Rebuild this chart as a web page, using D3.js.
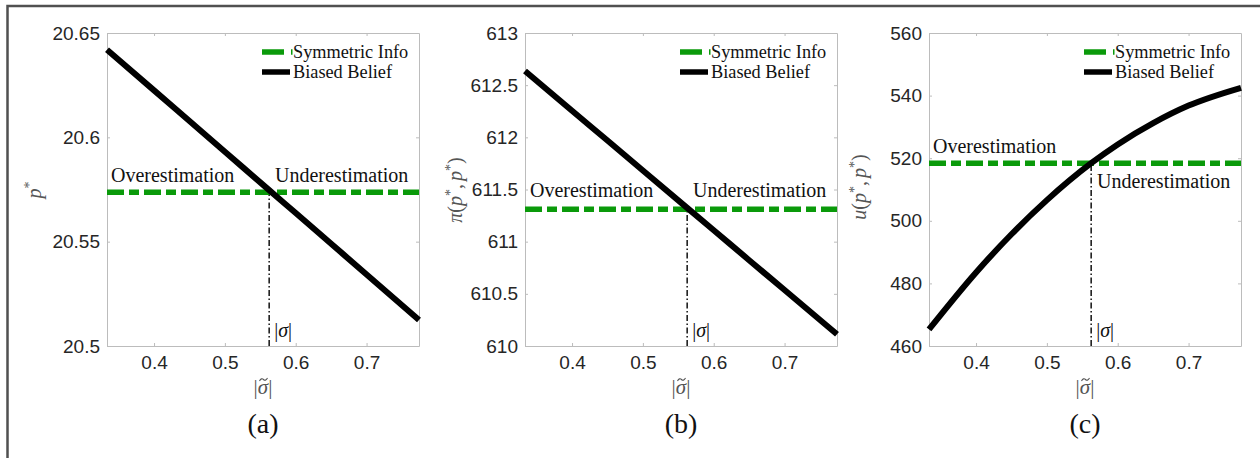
<!DOCTYPE html>
<html>
<head>
<meta charset="utf-8">
<script src="https://cdn.jsdelivr.net/npm/d3@7"></script>
<style>
  body { margin: 0; background: #fff; }
  svg { display: block; }
</style>
</head>
<body>
<div id="chart"></div>
<script>
// values
const sigmaTilde = [0.3336, 0.4, 0.45, 0.5, 0.5625, 0.6, 0.65, 0.7, 0.774];
const priceBiased = [20.642, 20.6225, 20.6078, 20.5931, 20.5747, 20.5637, 20.549, 20.5343, 20.5125];
const profitBiased = [612.636, 612.2555, 611.9689, 611.6823, 611.3241, 611.1092, 610.8226, 610.5361, 610.112];
const utilityBiased = [465.3, 483.5, 495.7, 506.6, 518.4, 524.4, 531.2, 536.8, 542.5];
const priceSymmetric = 20.5737;
const profitSymmetric = 611.31;
const utilitySymmetric = 518.4;
const sigmaTrue = 0.5625;

const xTicks = [0.4, 0.5, 0.6, 0.7];
const priceTicks = [20.5, 20.55, 20.6, 20.65];
const profitTicks = [610, 610.5, 611, 611.5, 612, 612.5, 613];
const utilityTicks = [460, 480, 500, 520, 540, 560];

const width = 1260, height = 458;
const serif = "'Liberation Serif', 'Times New Roman', serif";
const sans = "'Liberation Sans', Arial, Helvetica, sans-serif";
const green = "#0a9a0a";

const svg = d3.select("#chart").append("svg")
    .attr("width", width)
    .attr("height", height);

// outer frame (only top and left edges visible)
svg.append("path")
    .attr("d", `M7.5,${height} L7.5,6 L${width},6`)
    .attr("fill", "none")
    .attr("stroke", "#505050")
    .attr("stroke-width", 2.5);

const panels = [
    { left: 107, ys: priceBiased, yDomain: [20.5, 20.65], yTicks: priceTicks, sym: priceSymmetric,
      yLabel: "p", tag: "(a)", fmt: d3.format(".2~f"),
      over: { dx: 4, y: 182 }, under: { x: 275, y: 182 } },
    { left: 525, ys: profitBiased, yDomain: [610, 613], yTicks: profitTicks, sym: profitSymmetric,
      yLabel: "pi", tag: "(b)", fmt: d3.format(".1~f"),
      over: { dx: 5, y: 197 }, under: { x: 693, y: 197 } },
    { left: 929, ys: utilityBiased, yDomain: [460, 560], yTicks: utilityTicks, sym: utilitySymmetric,
      yLabel: "u", tag: "(c)", fmt: d3.format("d"),
      over: { dx: 4, y: 153 }, under: { x: 1097, y: 188 } }
];

const plotTop = 33, plotH = 313, plotW = 312;

panels.forEach(p => drawPanel(p));

function drawPanel(cfg) {
    const x = d3.scaleLinear().domain([0.3336, 0.774]).range([cfg.left, cfg.left + plotW]);
    const y = d3.scaleLinear().domain(cfg.yDomain).range([plotTop + plotH, plotTop]);
    const g = svg.append("g");

    // axes, ticks pointing inward on all four sides
    const axisStyle = sel => {
        sel.select(".domain").attr("stroke", "#bcbcbc");
        sel.selectAll(".tick line").attr("stroke", "#bcbcbc");
        sel.selectAll("text").attr("font-family", sans).attr("font-size", 19).attr("fill", "#262626");
    };
    g.append("g")
        .attr("transform", `translate(0,${plotTop + plotH})`)
        .call(d3.axisBottom(x).tickValues(xTicks).tickSizeInner(-3).tickSizeOuter(0).tickPadding(10).tickFormat(d3.format(".1f")))
        .call(axisStyle);
    g.append("g")
        .attr("transform", `translate(0,${plotTop})`)
        .call(d3.axisTop(x).tickValues(xTicks).tickSizeInner(-3).tickSizeOuter(0).tickFormat(""))
        .call(axisStyle);
    g.append("g")
        .attr("transform", `translate(${cfg.left},0)`)
        .call(d3.axisLeft(y).tickValues(cfg.yTicks).tickSizeInner(-3).tickSizeOuter(0).tickPadding(7).tickFormat(cfg.fmt))
        .call(axisStyle);
    g.append("g")
        .attr("transform", `translate(${cfg.left + plotW},0)`)
        .call(d3.axisRight(y).tickValues(cfg.yTicks).tickSizeInner(-3).tickSizeOuter(0).tickFormat(""))
        .call(axisStyle);

    // vertical dash-dot marker at |sigma|
    g.append("line")
        .attr("x1", x(sigmaTrue)).attr("x2", x(sigmaTrue))
        .attr("y1", y(cfg.yDomain[0])).attr("y2", y(cfg.sym))
        .attr("stroke", "#111")
        .attr("stroke-width", 1.5)
        .attr("stroke-dasharray", "6,2.5,1.5,2.5");

    // symmetric info line
    g.append("line")
        .attr("x1", x(0.3336)).attr("x2", x(0.774))
        .attr("y1", y(cfg.sym)).attr("y2", y(cfg.sym))
        .attr("stroke", green)
        .attr("stroke-width", 5.5)
        .attr("stroke-dasharray", "17,5,10,5");

    // biased belief curve
    const line = d3.line()
        .x((d, i) => x(sigmaTilde[i]))
        .y(d => y(d))
        .curve(d3.curveMonotoneX);
    g.append("path")
        .datum(cfg.ys)
        .attr("d", line)
        .attr("fill", "none")
        .attr("stroke", "#000")
        .attr("stroke-width", 6);

    // region labels
    g.append("text")
        .attr("x", cfg.left + cfg.over.dx).attr("y", cfg.over.y)
        .attr("font-family", serif).attr("font-size", 20).attr("fill", "#111")
        .text("Overestimation");
    g.append("text")
        .attr("x", cfg.under.x).attr("y", cfg.under.y)
        .attr("font-family", serif).attr("font-size", 20).attr("fill", "#111")
        .text("Underestimation");

    // |sigma| label
    const sl = g.append("text")
        .attr("x", x(sigmaTrue) + 5).attr("y", plotTop + plotH - 9)
        .attr("font-family", serif).attr("font-size", 20).attr("fill", "#111");
    sl.append("tspan").text("|");
    sl.append("tspan").attr("font-style", "italic").text("σ");
    sl.append("tspan").text("|");

    // legend
    const lx = cfg.left + plotW - 157;
    g.append("line")
        .attr("x1", lx).attr("x2", lx + 22).attr("y1", 52).attr("y2", 52)
        .attr("stroke", green).attr("stroke-width", 5.5);
    g.append("line")
        .attr("x1", lx + 29).attr("x2", lx + 30.5).attr("y1", 52).attr("y2", 52)
        .attr("stroke", green).attr("stroke-width", 5.5);
    g.append("text")
        .attr("x", lx + 31).attr("y", 58)
        .attr("font-family", serif).attr("font-size", 18.3).attr("fill", "#111")
        .text("Symmetric Info");
    g.append("line")
        .attr("x1", lx).attr("x2", lx + 28).attr("y1", 72).attr("y2", 72)
        .attr("stroke", "#000").attr("stroke-width", 5.5);
    g.append("text")
        .attr("x", lx + 31).attr("y", 78)
        .attr("font-family", serif).attr("font-size", 18.3).attr("fill", "#111")
        .text("Biased Belief");

    // x label |sigma~| with the tilde drawn as a small stroke
    const cx = cfg.left + plotW / 2;
    const xl = g.append("text")
        .attr("x", cx).attr("y", 394)
        .attr("text-anchor", "middle")
        .attr("font-family", serif).attr("font-size", 21).attr("fill", "#555");
    xl.append("tspan").text("|");
    xl.append("tspan").attr("font-style", "italic").text("σ");
    xl.append("tspan").text("|");
    const tp = d3.path();
    tp.moveTo(cx - 3.5, 381);
    tp.quadraticCurveTo(cx - 1.5, 377.5, cx + 0.5, 379.5);
    tp.quadraticCurveTo(cx + 2.5, 381.5, cx + 4.5, 378);
    g.append("path")
        .attr("d", tp.toString())
        .attr("fill", "none")
        .attr("stroke", "#555")
        .attr("stroke-width", 1.1);

    // y label
    const cy = cfg.yLabel === "u" ? 187 : 190;
    const ylx = cfg.left - (cfg.yLabel === "p" ? 66 : 63);
    const yl = g.append("text")
        .attr("transform", `translate(${ylx},${cy}) rotate(-90)`)
        .attr("text-anchor", "middle")
        .attr("font-family", serif).attr("font-size", 20).attr("fill", "#555");
    if (cfg.yLabel === "p") {
        yl.append("tspan").attr("font-style", "italic").text("p");
        yl.append("tspan").attr("font-size", 14).attr("baseline-shift", "super").text("*");
    } else {
        yl.append("tspan").attr("font-style", "italic").text(cfg.yLabel === "pi" ? "π" : "u");
        yl.append("tspan").text("(");
        yl.append("tspan").attr("font-style", "italic").text("p");
        yl.append("tspan").attr("font-size", 14).attr("baseline-shift", "super").text("*");
        yl.append("tspan").text(",");
        yl.append("tspan").attr("font-style", "italic").attr("dx", 3).text("p");
        yl.append("tspan").attr("font-size", 14).attr("baseline-shift", "super").text("*");
        yl.append("tspan").text(")");
    }

    // panel tag
    g.append("text")
        .attr("x", cx).attr("y", 433)
        .attr("text-anchor", "middle")
        .attr("font-family", serif).attr("font-size", 28).attr("fill", "#111")
        .text(cfg.tag);
}
</script>
</body>
</html>
